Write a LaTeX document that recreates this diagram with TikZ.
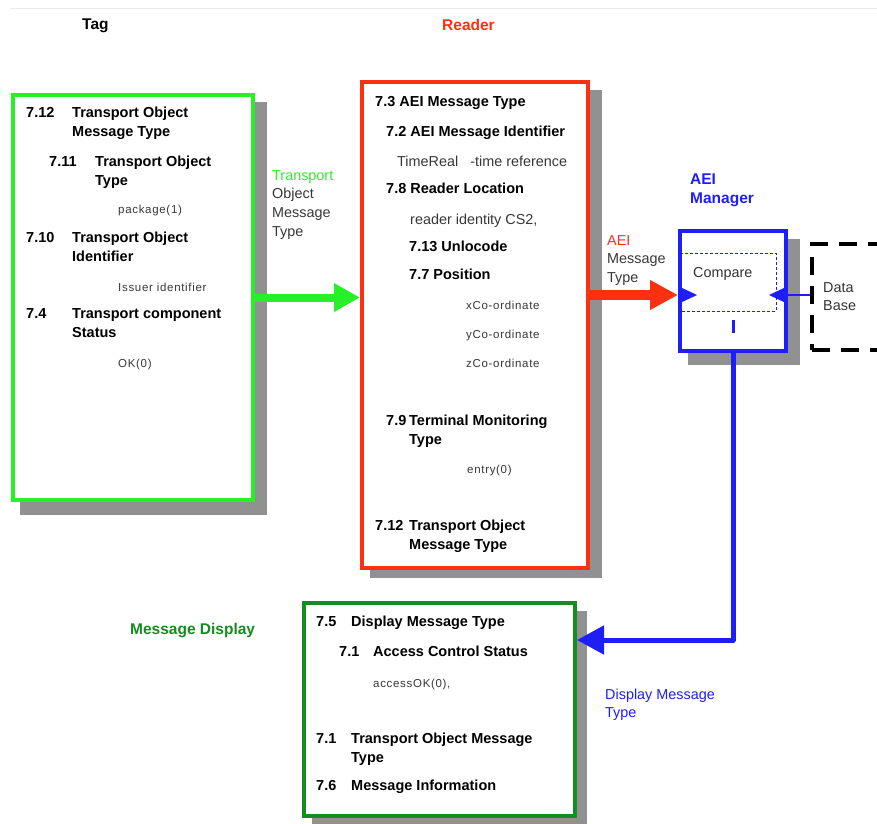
\documentclass[tikz,border=0pt]{standalone}
\usepackage{fontspec}
\setmainfont{Liberation Sans}
\newfontfamily\smallfont[LetterSpace=6]{Liberation Sans}
\usetikzlibrary{arrows.meta,calc}
\definecolor{mylime}{RGB}{40,240,40}
\definecolor{myred}{RGB}{255,48,16}
\definecolor{myblue}{RGB}{30,30,250}
\definecolor{mydkgreen}{RGB}{20,140,30}
\definecolor{shadowgray}{RGB}{145,145,145}
\definecolor{textgray}{RGB}{55,55,55}
\begin{document}
\begin{tikzpicture}[x=1pt,y=-1pt,
  bt/.style={anchor=base west,inner sep=0,font=\fontsize{14.5}{17}\selectfont\bfseries},
  tt/.style={anchor=base west,inner sep=0,font=\fontsize{15.5}{18}\selectfont\bfseries},
  rt/.style={anchor=base west,inner sep=0,text=textgray,font=\fontsize{14.4}{17}\selectfont},
  st/.style={anchor=base west,inner sep=0,text=textgray,font=\smallfont\fontsize{11.5}{13}\selectfont},
  box/.style={line width=4,inner sep=0,fill=white},
]
\useasboundingbox (0,0) rectangle (877,823);
\clip (0,0) rectangle (877,823);
\fill[white] (0,0) rectangle (877,823);
\draw[black!8,line width=1] (10,8) -- (877,8);

% titles
\node[tt] (ttag) at (82,29) {Tag};
\node[tt,text=myred] (treader) at (442,30) {Reader};
\node[tt,text=myblue] (taei1) at (690,184) {AEI};
\node[tt,text=myblue] (taei2) at (690,203) {Manager};
\node[tt,text=mydkgreen] (tmd) at (130,634) {Message Display};

% shadows
\fill[shadowgray] (20,102) rectangle (267,515);
\fill[shadowgray] (370,90) rectangle (602,578);
\fill[shadowgray] (688,239) rectangle (800,365);
\fill[shadowgray] (312,611) rectangle (587,830);

% boxes
\node[box,draw=mylime,minimum width=240,minimum height=405] (tag) at (133,297.5) {};
\node[box,draw=myred,minimum width=226,minimum height=486] (reader) at (475,325) {};
\node[box,draw=myblue,minimum width=106,minimum height=120] (aei) at (733,291) {};
\node[box,draw=mydkgreen,minimum width=271,minimum height=213] (disp) at (439.5,709.5) {};
\node[line width=4,inner sep=0,draw=black,dash pattern=on 18pt off 11pt,minimum width=100,minimum height=106] (db) at (862,297) {};

% compare inner dashed box
\draw[myblue,line width=1,dash pattern=on 3pt off 2pt] (680,253) -- (776,253) -- (776,311) -- (680,311);
\node[rt,text=black!80] (tcmp) at (693,277) {Compare};
\node[rt,text=black!80] (tdb1) at (823,292) {Data};
\node[rt,text=black!80] (tdb2) at (823,310) {Base};

% connectors
\coordinate (ay) at (0,295);
\coordinate (by) at (0,640);
\draw[mylime,line width=8,-{Triangle[length=26pt,width=27pt]}] (tag.east) -- (tag.east -| reader.west);
\draw[myred,line width=10,-{Triangle[length=28pt,width=28pt]}] (reader.east |- ay) -- (aei.west |- ay);
\fill[myblue] ($(aei.west|-ay)+(2,-8)$) -- ++(0,16) -- ++(17,-8) -- cycle;
\fill[myblue] ($(aei.east|-ay)+(-2,-8)$) -- ++(0,16) -- ++(-17,-8) -- cycle;
\draw[myblue,line width=2] (aei.east |- ay) -- (db.west |- ay);
\draw[myblue,line width=3] (733,320) -- (733,333);
\draw[myblue,line width=5,line join=round,-{Triangle[length=27pt,width=28pt]}] (aei.south) -- (aei.south |- by) -- (disp.east |- by);

% connector labels
\node[rt,text=mylime] (l1) at (272,180) {Transport};
\node[rt] (l2) at (272,198) {Object};
\node[rt] (l3) at (272,217) {Message};
\node[rt] (l4) at (272,236) {Type};
\node[rt,text=myred] (l5) at (607,245) {AEI};
\node[rt] (l6) at (607,263) {Message};
\node[rt] (l7) at (607,282) {Type};
\node[rt,text=myblue] (l8) at (605,699) {Display Message};
\node[rt,text=myblue] (l9) at (605,717) {Type};

% tag box text
\node[bt] (a1) at (26,117) {7.12};
\node[bt] (a2) at (72,117) {Transport Object};
\node[bt] (a3) at (72,136) {Message Type};
\node[bt] (a4) at (49,166) {7.11};
\node[bt] (a5) at (95,166) {Transport Object};
\node[bt] (a6) at (95,185) {Type};
\node[st] (a7) at (118,213) {package(1)};
\node[bt] (a8) at (26,242) {7.10};
\node[bt] (a9) at (72,242) {Transport Object};
\node[bt] (a10) at (72,261) {Identifier};
\node[st] (a11) at (118,291) {Issuer identifier};
\node[bt] (a12) at (26,318) {7.4};
\node[bt] (a13) at (72,318) {Transport component};
\node[bt] (a14) at (72,337) {Status};
\node[st] (a15) at (118,367) {OK(0)};

% reader box text
\node[bt] (b1) at (375,106) {7.3 AEI Message Type};
\node[bt] (b2) at (386,136) {7.2 AEI Message Identifier};
\node[rt] (b3) at (397,166) {TimeReal\ \ \ -time reference};
\node[bt] (b4) at (386,193) {7.8 Reader Location};
\node[rt] (b5) at (410,224) {reader identity CS2,};
\node[bt] (b6) at (409,251) {7.13 Unlocode};
\node[bt] (b7) at (409,279) {7.7 Position};
\node[st] (b8) at (466,309) {xCo-ordinate};
\node[st] (b9) at (466,338) {yCo-ordinate};
\node[st] (b10) at (466,367) {zCo-ordinate};
\node[bt] (b11) at (386,425) {7.9};
\node[bt] (b12) at (409,425) {Terminal Monitoring};
\node[bt] (b13) at (409,444) {Type};
\node[st] (b14) at (467,473) {entry(0)};
\node[bt] (b15) at (375,530) {7.12};
\node[bt] (b16) at (409,530) {Transport Object};
\node[bt] (b17) at (409,549) {Message Type};

% display box text
\node[bt] (c1) at (316,626) {7.5};
\node[bt] (c2) at (351,626) {Display Message Type};
\node[bt] (c3) at (339,656) {7.1};
\node[bt] (c4) at (373,656) {Access Control Status};
\node[st] (c5) at (373,687) {accessOK(0),};
\node[bt] (c6) at (316,743) {7.1};
\node[bt] (c7) at (351,743) {Transport Object Message};
\node[bt] (c8) at (351,762) {Type};
\node[bt] (c9) at (316,790) {7.6};
\node[bt] (c10) at (351,790) {Message Information};
\end{tikzpicture}
\end{document}
